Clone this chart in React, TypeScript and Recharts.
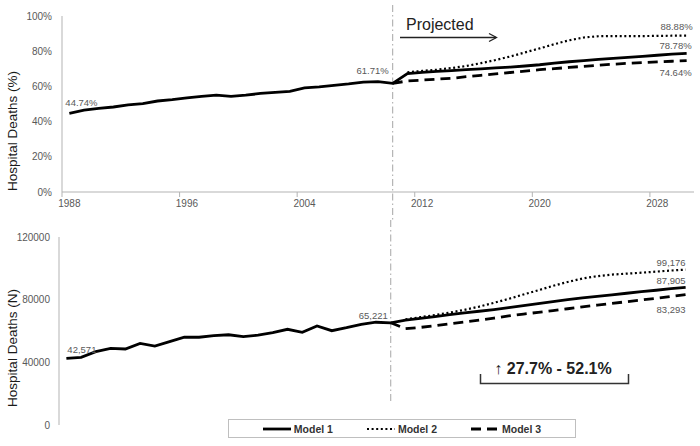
import React from "react";
import { LineChart, Line, XAxis, YAxis, ReferenceLine, LabelList, Legend } from "recharts";

// categories
const years = [
  1988, 1989, 1990, 1991, 1992, 1993, 1994, 1995, 1996, 1997, 1998, 1999, 2000, 2001, 2002,
  2003, 2004, 2005, 2006, 2007, 2008, 2009, 2010, 2011, 2012, 2013, 2014, 2015, 2016, 2017,
  2018, 2019, 2020, 2021, 2022, 2023, 2024, 2025, 2026, 2027, 2028, 2029, 2030,
];
const yearTicks = [1988, 1996, 2004, 2012, 2020, 2028];
const pctTicks = [0, 20, 40, 60, 80, 100];
const countTicks = [0, 40000, 80000, 120000];

// hospital deaths (%) — observed 1988-2010
const observedPct = [
  44.74, 46.5, 47.5, 48.3, 49.5, 50.2, 51.7, 52.5, 53.5, 54.3, 55.0, 54.3, 55.0, 56.0, 56.6,
  57.2, 59.2, 59.7, 60.6, 61.4, 62.4, 62.7, 61.71,
];
// projections 2011-2030 (model 3 from 2010)
const model1Pct = [
  67.3, 68.0, 68.5, 69.0, 69.5, 70.0, 70.5, 71.0, 71.6, 72.3, 73.2, 74.0, 74.7, 75.3, 75.9,
  76.5, 77.1, 77.7, 78.3, 78.78,
];
const model2Pct = [
  68.0, 68.8, 69.5, 70.4, 71.6, 73.2, 75.0, 77.0, 79.3, 81.6, 84.0, 86.2, 87.8, 88.5, 88.6,
  88.6, 88.6, 88.7, 88.8, 88.88,
];
const model3Pct = [
  61.71, 63.1, 63.6, 64.1, 64.6, 65.5, 66.3, 67.1, 67.9, 68.7, 69.5, 70.1, 70.8, 71.4, 72.0,
  72.6, 73.1, 73.5, 73.9, 74.3, 74.64,
];

// hospital deaths (N)
const observedN = [
  42571, 43200, 46800, 48900, 48500, 52100, 50400, 53200, 56000, 56000, 57000, 57600, 56400,
  57400, 58900, 61100, 59200, 63200, 60200, 62100, 64300, 65600, 65221,
];
const model1N = [
  67000, 68100, 69200, 70400, 71500, 72600, 73700, 74900, 76200, 77500, 78800, 80000, 81100,
  82100, 83100, 84100, 85100, 86000, 87000, 87905,
];
const model2N = [
  67500, 68800, 70200, 71700, 73500, 75600, 78000, 80500, 83300, 86000, 88800, 91300, 93500,
  95000, 96000, 96600, 97200, 97900, 98600, 99176,
];
const model3N = [
  65221, 61500, 62300, 63400, 64600, 65700, 66900, 68200, 69600, 70800, 71900, 73000, 74200,
  75400, 76500, 77600, 78700, 79800, 80900, 82100, 83293,
];

const OBS = observedPct.length; // 23 -> last observed is 2010

function buildRows(obs: number[], m1: number[], m2: number[], m3: number[]) {
  return years.map((year, i) => ({
    year,
    m1: i < OBS ? obs[i] : m1[i - OBS],
    m2: i >= OBS ? m2[i - OBS] : null,
    m3: i >= OBS - 1 ? m3[i - OBS + 1] : null,
  }));
}

const pctRows = buildRows(observedPct, model1Pct, model2Pct, model3Pct);
const countRows = buildRows(observedN, model1N, model2N, model3N);

const AXIS = "#b3b3b3";
const TICK = "#595959";
const FONT = '"Liberation Sans", Arial, sans-serif';
const HALF_BAND = (700 - 62 - 6) / years.length / 2;

const lineStyle = {
  m1: { strokeWidth: 2.8 },
  m2: { strokeWidth: 2.2, strokeDasharray: "2 2.6" },
  m3: { strokeWidth: 2.8, strokeDasharray: "10 6" },
};

function YearTick({ x, y, payload }: any) {
  return (
    <g>
      <line x1={x - HALF_BAND} x2={x - HALF_BAND} y1={y - 8} y2={y - 3} stroke={AXIS} />
      <text x={x} y={y} dy="0.71em" textAnchor="middle" fontSize={10} fill={TICK}>
        {payload.value}
      </text>
    </g>
  );
}

const axisTitle = (text: string, shift: number) => (props: any) => {
  const vb = props.viewBox;
  const cy = vb.y + vb.height / 2 + shift;
  return (
    <text
      x={12.5}
      y={cy}
      transform={`rotate(-90 12.5 ${cy})`}
      textAnchor="middle"
      dominantBaseline="central"
      fontSize={13.5}
      fill="#1a1a1a"
    >
      {text}
    </text>
  );
};

// dashed "today" divider, stretched beyond the plot box
const divider = (up: number, down: number) => (p: any) => (
  <line
    x1={p.x1}
    x2={p.x2}
    y1={Math.min(p.y1, p.y2) - up}
    y2={Math.max(p.y1, p.y2) + down}
    stroke="#a6a6a6"
    strokeWidth={1}
    strokeDasharray="7 3 1.5 3"
  />
);

type Spot = { anchor: "start" | "end"; dx: number; dy: number };
const pointLabel = (spots: Record<number, Spot>, fmt: (v: number) => string) => (p: any) => {
  const s = spots[p.index];
  if (!s || p.value == null) return null;
  return (
    <text
      x={p.x + s.dx}
      y={p.y + s.dy}
      textAnchor={s.anchor}
      dominantBaseline="central"
      fontSize={9.5}
      fill={TICK}
    >
      {fmt(p.value)}
    </text>
  );
};

const pctFmt = (v: number) => `${v.toFixed(2)}%`;
const nFmt = (v: number) => v.toLocaleString("en-US");
const LAST = years.length - 1;

function ModelLegend({ payload }: any) {
  return (
    <div
      style={{
        height: 19,
        boxSizing: "border-box",
        border: "1px solid #bfbfbf",
        background: "#fff",
        display: "flex",
        justifyContent: "center",
        alignItems: "center",
        gap: 34,
        fontFamily: FONT,
        fontWeight: "bold",
        fontSize: 10.5,
        color: "#333",
      }}
    >
      {(payload || []).map((e: any) => {
        const st = (lineStyle as any)[e.dataKey];
        return (
          <span key={e.dataKey} style={{ display: "flex", alignItems: "center", gap: 3 }}>
            <svg width={28} height={6}>
              <line x1={0} x2={28} y1={3} y2={3} stroke="#000" {...st} />
            </svg>
            {e.value}
          </span>
        );
      })}
    </div>
  );
}

export default function App() {
  return (
    <div
      style={{
        position: "absolute",
        left: 0,
        top: 0,
        width: 700,
        height: 446,
        background: "#fff",
        fontFamily: FONT,
      }}
    >
      <div style={{ position: "absolute", left: 0, top: 0 }}>
        <LineChart width={700} height={220} data={pctRows} margin={{ top: 16, right: 6, bottom: 4, left: 0 }}>
          <XAxis
            dataKey="year"
            type="number"
            domain={[1987.5, 2030.5]}
            ticks={yearTicks}
            interval={0}
            allowDataOverflow
            height={24}
            tickLine={false}
            axisLine={{ stroke: AXIS }}
            tick={<YearTick />}
          />
          <YAxis
            domain={[0, 100]}
            ticks={pctTicks}
            tickFormatter={(v: number) => `${v}%`}
            width={62}
            tickLine={false}
            tickMargin={4}
            axisLine={{ stroke: AXIS }}
            tick={{ fontSize: 10, fill: TICK }}
            label={axisTitle("Hospital Deaths (%)", 27)}
          />
          <ReferenceLine x={2010} shape={divider(11, 28)} />
          <Line dataKey="m1" name="Model 1" stroke="#000" {...lineStyle.m1} dot={false} isAnimationActive={false}>
            <LabelList
              dataKey="m1"
              content={pointLabel(
                {
                  0: { anchor: "start", dx: -4, dy: -11 },
                  [OBS - 1]: { anchor: "end", dx: -4, dy: -13 },
                  [LAST]: { anchor: "end", dx: 5, dy: -8 },
                },
                pctFmt
              )}
            />
          </Line>
          <Line dataKey="m2" name="Model 2" stroke="#000" {...lineStyle.m2} dot={false} isAnimationActive={false}>
            <LabelList dataKey="m2" content={pointLabel({ [LAST]: { anchor: "end", dx: 6, dy: -9 } }, pctFmt)} />
          </Line>
          <Line dataKey="m3" name="Model 3" stroke="#000" {...lineStyle.m3} dot={false} isAnimationActive={false}>
            <LabelList dataKey="m3" content={pointLabel({ [LAST]: { anchor: "end", dx: 5, dy: 12 } }, pctFmt)} />
          </Line>
        </LineChart>
      </div>

      <div style={{ position: "absolute", left: 0, top: 220 }}>
        <LineChart width={700} height={226} data={countRows} margin={{ top: 17, right: 7, bottom: 21, left: 0 }}>
          <XAxis dataKey="year" type="number" domain={[1987.5, 2030.5]} allowDataOverflow hide />
          <YAxis
            domain={[0, 120000]}
            ticks={countTicks}
            width={59}
            tickLine={false}
            tickMargin={3}
            axisLine={{ stroke: AXIS }}
            tick={{ fontSize: 10, fill: TICK }}
            label={axisTitle("Hospital Deaths (N)", 17)}
          />
          <ReferenceLine x={2010} shape={divider(17, -22)} />
          <Line dataKey="m1" name="Model 1" stroke="#000" {...lineStyle.m1} dot={false} isAnimationActive={false}>
            <LabelList
              dataKey="m1"
              content={pointLabel(
                {
                  0: { anchor: "start", dx: 1, dy: -9 },
                  [OBS - 1]: { anchor: "end", dx: -3, dy: -7 },
                  [LAST]: { anchor: "end", dx: 0, dy: -7 },
                },
                nFmt
              )}
            />
          </Line>
          <Line dataKey="m2" name="Model 2" stroke="#000" {...lineStyle.m2} dot={false} isAnimationActive={false}>
            <LabelList dataKey="m2" content={pointLabel({ [LAST]: { anchor: "end", dx: 0, dy: -7 } }, nFmt)} />
          </Line>
          <Line dataKey="m3" name="Model 3" stroke="#000" {...lineStyle.m3} dot={false} isAnimationActive={false}>
            <LabelList dataKey="m3" content={pointLabel({ [LAST]: { anchor: "end", dx: 0, dy: 15 } }, nFmt)} />
          </Line>
          <Legend
            layout="horizontal"
            verticalAlign="middle"
            content={<ModelLegend />}
            wrapperStyle={{ position: "absolute", left: 228, top: 199, width: 348, height: 19 }}
          />
        </LineChart>
      </div>

      {/* annotations */}
      <svg width={700} height={446} style={{ position: "absolute", left: 0, top: 0, pointerEvents: "none" }}>
        <text x={406} y={24} dominantBaseline="central" fontSize={16} fill="#222">
          Projected
        </text>
        <line x1={400} x2={496} y1={37.5} y2={37.5} stroke="#222" strokeWidth={1.3} />
        <polyline points="489,33.5 496.5,37.5 489,41.5" fill="none" stroke="#222" strokeWidth={1.3} />
        <text x={553} y={368} textAnchor="middle" dominantBaseline="central" fontSize={16} fill="#222">
          <tspan fontWeight="normal">↑ </tspan>
          <tspan fontWeight="bold">27.7% - 52.1%</tspan>
        </text>
        <path d="M480.5,374 V383.5 H628.5 V374" fill="none" stroke="#333" strokeWidth={1.5} />
      </svg>
    </div>
  );
}
